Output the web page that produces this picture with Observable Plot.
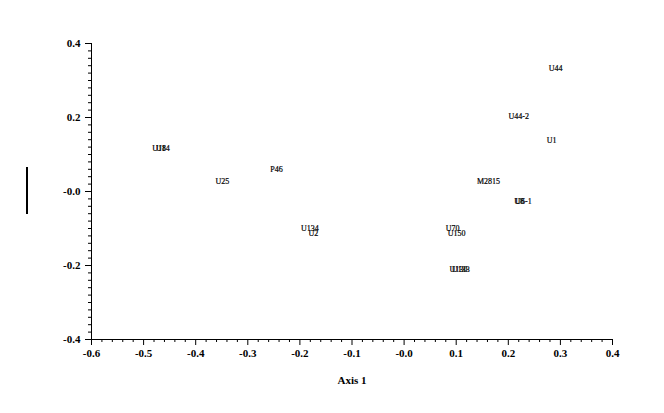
<!DOCTYPE html>
<html><head><meta charset="utf-8">
<script src="https://cdn.jsdelivr.net/npm/d3@7"></script>
<script src="https://cdn.jsdelivr.net/npm/@observablehq/plot@0.6"></script>
<style>
body{margin:0;background:#fff;}
#wrap{position:relative;width:664px;height:413px;}
#ybar{position:absolute;left:26px;top:167px;width:2px;height:47px;background:#000;}
svg{font-family:"Liberation Serif",serif;}
</style></head>
<body><div id="wrap"><div id="ybar"></div></div>
<script>
const labels = ["U44","U44-2","U1","U18","U14","U25","P46","M2815","U8","U6-1","U134","U2","U70","U150","U130","U133"];
const axis1 = [0.291,0.220,0.283,-0.470,-0.463,-0.349,-0.245,0.162,0.221,0.229,-0.181,-0.174,0.093,0.101,0.104,0.109];
const axis2 = [0.332,0.203,0.138,0.116,0.116,0.027,0.059,0.027,-0.027,-0.027,-0.100,-0.114,-0.100,-0.114,-0.211,-0.211];
const xMajor = [-0.6,-0.5,-0.4,-0.3,-0.2,-0.1,0,0.1,0.2,0.3,0.4];
const yMajor = [-0.4,-0.2,0,0.2,0.4];
const fmt = d => (Math.abs(d) < 1e-9 ? "-0.0" : d.toFixed(1));
const xMinor = d3.range(-30,21).map(i => i/50).filter(v => Math.abs(v*10 - Math.round(v*10)) > 1e-6);
const yMinor = d3.range(-20,21).map(i => i/50).filter(v => Math.abs(v*5 - Math.round(v*5)) > 1e-6);
const pts = labels.map((l,i)=>({l, x:axis1[i], y:axis2[i]}));
const plot = Plot.plot({
  width:664, height:413,
  marginLeft:91, marginRight:52, marginTop:43, marginBottom:74,
  style:{fontFamily:"Liberation Serif, serif", color:"#000", background:"transparent"},
  x:{domain:[-0.6,0.4]},
  y:{domain:[-0.4,0.4]},
  marks:[
    Plot.axisX({ticks:xMinor, tickSize:3, text:null, anchor:"bottom", label:null, strokeWidth:1}),
    Plot.axisX({ticks:xMajor, tickSize:6, tickPadding:4, tickFormat:fmt, anchor:"bottom", label:null, fontSize:11, fontWeight:"bold", strokeWidth:1}),
    Plot.axisY({ticks:yMinor, tickSize:3, text:null, anchor:"left", label:null, strokeWidth:1}),
    Plot.axisY({ticks:yMajor, tickSize:6, tickPadding:5, tickFormat:fmt, anchor:"left", label:null, fontSize:11, fontWeight:"bold", strokeWidth:1}),
    Plot.ruleY([-0.4], {stroke:"#000"}),
    Plot.ruleX([-0.6], {stroke:"#000"}),
    Plot.text(pts, {x:"x", y:"y", text:"l", fontSize:8, fill:"#000", stroke:"#000", strokeWidth:0.2, fontFamily:"Liberation Serif, serif"}),
    Plot.text(["Axis 1"], {frameAnchor:"bottom", dy:44, fontSize:11, fontWeight:"bold", fill:"#000"})
  ]
});
document.getElementById("wrap").appendChild(plot);
</script></body></html>
